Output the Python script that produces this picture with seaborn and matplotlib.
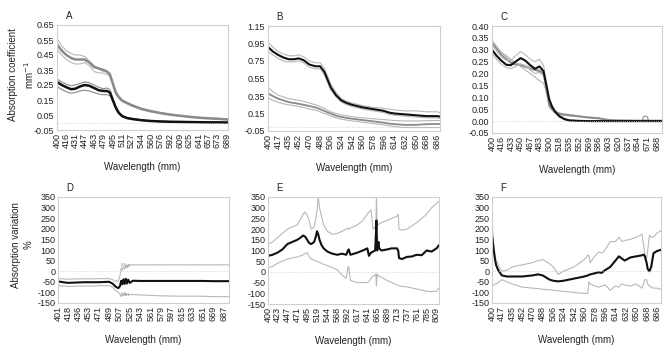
import numpy as np
import seaborn as sns
import matplotlib.pyplot as plt

# ---- panel A : absorption coefficient ----
a_wl = [400, 408, 416, 424, 431, 439, 447, 455, 463, 471, 479, 485, 490, 495, 500, 505, 511, 519, 527, 544, 560, 576, 592, 609, 625, 641, 657, 673, 691]
a_grey = [0.52, 0.48, 0.45, 0.43, 0.42, 0.42, 0.42, 0.40, 0.37, 0.36, 0.35, 0.34, 0.32, 0.26, 0.20, 0.17, 0.145, 0.13, 0.115, 0.09, 0.075, 0.063, 0.053, 0.045, 0.038, 0.032, 0.028, 0.025, 0.02]
a_grey_hi = [0.56, 0.51, 0.48, 0.46, 0.45, 0.45, 0.44, 0.41, 0.38, 0.36, 0.34, 0.34, 0.33, 0.27, 0.21, 0.175, 0.15, 0.135, 0.12, 0.095, 0.078, 0.066, 0.056, 0.047, 0.04, 0.034, 0.03, 0.027, 0.022]
a_grey_lo = [0.49, 0.45, 0.42, 0.40, 0.39, 0.39, 0.40, 0.38, 0.34, 0.33, 0.33, 0.32, 0.31, 0.25, 0.19, 0.165, 0.14, 0.125, 0.11, 0.085, 0.072, 0.06, 0.05, 0.043, 0.036, 0.03, 0.026, 0.023, 0.018]
a_black = [0.27, 0.25, 0.235, 0.222, 0.225, 0.24, 0.25, 0.245, 0.23, 0.215, 0.21, 0.21, 0.20, 0.15, 0.10, 0.065, 0.042, 0.03, 0.024, 0.015, 0.01, 0.007, 0.005, 0.004, 0.003, 0.002, 0.001, 0.001, 0.0]
a_black_hi = [0.29, 0.27, 0.255, 0.245, 0.25, 0.26, 0.27, 0.265, 0.25, 0.235, 0.225, 0.23, 0.22, 0.16, 0.105, 0.07, 0.046, 0.033, 0.027, 0.018, 0.012, 0.009, 0.007, 0.005, 0.004, 0.003, 0.002, 0.002, 0.001]
a_black_lo = [0.24, 0.22, 0.205, 0.195, 0.2, 0.21, 0.215, 0.21, 0.2, 0.19, 0.185, 0.185, 0.18, 0.14, 0.09, 0.06, 0.038, 0.027, 0.021, 0.012, 0.008, 0.005, 0.004, 0.003, 0.002, 0.001, 0.0, 0.0, -0.001]
a_ticks = [400, 416, 431, 447, 463, 479, 495, 511, 527, 544, 560, 576, 592, 609, 625, 641, 657, 673, 689]

# ---- panel B ----
b_wl = [400, 408, 417, 426, 435, 444, 452, 460, 470, 480, 488, 495, 500, 506, 515, 524, 533, 542, 560, 578, 596, 605, 614, 632, 650, 668, 686, 691]
b_black = [0.91, 0.86, 0.82, 0.79, 0.77, 0.77, 0.78, 0.76, 0.71, 0.69, 0.69, 0.63, 0.55, 0.45, 0.36, 0.30, 0.27, 0.25, 0.22, 0.20, 0.18, 0.16, 0.15, 0.14, 0.13, 0.12, 0.12, 0.115]
b_black_hi = [0.96, 0.91, 0.86, 0.83, 0.81, 0.81, 0.82, 0.80, 0.75, 0.73, 0.73, 0.67, 0.59, 0.49, 0.39, 0.32, 0.29, 0.27, 0.24, 0.22, 0.21, 0.2, 0.19, 0.18, 0.18, 0.17, 0.17, 0.16]
b_black_lo = [0.86, 0.82, 0.78, 0.75, 0.74, 0.74, 0.75, 0.73, 0.68, 0.66, 0.66, 0.60, 0.52, 0.42, 0.34, 0.28, 0.25, 0.23, 0.2, 0.18, 0.16, 0.14, 0.13, 0.12, 0.11, 0.1, 0.1, 0.095]
b_grey = [0.38, 0.35, 0.32, 0.30, 0.28, 0.27, 0.26, 0.25, 0.235, 0.22, 0.2, 0.18, 0.165, 0.15, 0.125, 0.11, 0.1, 0.09, 0.075, 0.06, 0.045, 0.035, 0.028, 0.02, 0.02, 0.028, 0.03, 0.03]
b_grey_hi = [0.45, 0.40, 0.36, 0.34, 0.32, 0.31, 0.30, 0.29, 0.27, 0.25, 0.23, 0.21, 0.19, 0.17, 0.15, 0.135, 0.125, 0.115, 0.1, 0.09, 0.08, 0.075, 0.07, 0.065, 0.065, 0.068, 0.07, 0.07]
b_grey_lo = [0.33, 0.30, 0.28, 0.26, 0.25, 0.24, 0.23, 0.22, 0.2, 0.19, 0.17, 0.15, 0.14, 0.125, 0.1, 0.085, 0.075, 0.065, 0.05, 0.035, 0.02, 0.01, 0.0, -0.01, -0.01, -0.01, -0.01, -0.01]
b_ticks = [400, 417, 435, 452, 470, 488, 506, 524, 542, 560, 578, 596, 614, 632, 650, 668, 686]

# ---- panel C ----
c_wl = [400, 408, 416, 425, 433, 441, 450, 458, 467, 475, 483, 490, 495, 500, 505, 510, 518, 527, 535, 552, 569, 586, 603, 620, 654, 671, 697]
c_black = [0.30, 0.275, 0.255, 0.237, 0.235, 0.25, 0.265, 0.255, 0.235, 0.22, 0.23, 0.21, 0.15, 0.09, 0.06, 0.04, 0.02, 0.008, 0.003, 0.001, 0.0, 0.0, 0.0, 0.0, 0.0, 0.0, 0.0]
c_black_hi = [0.32, 0.295, 0.27, 0.255, 0.255, 0.275, 0.292, 0.28, 0.26, 0.25, 0.26, 0.235, 0.165, 0.1, 0.066, 0.044, 0.024, 0.01, 0.005, 0.002, 0.001, 0.001, 0.001, 0.001, 0.001, 0.001, 0.001]
c_black_lo = [0.285, 0.26, 0.24, 0.225, 0.22, 0.23, 0.24, 0.232, 0.215, 0.2, 0.205, 0.19, 0.135, 0.08, 0.055, 0.035, 0.016, 0.006, 0.001, 0.0, -0.001, -0.001, -0.001, -0.001, -0.001, -0.001, -0.001]
c_grey = [0.33, 0.305, 0.28, 0.26, 0.245, 0.238, 0.235, 0.228, 0.22, 0.215, 0.21, 0.2, 0.14, 0.065, 0.05, 0.04, 0.03, 0.027, 0.025, 0.02, 0.015, 0.012, 0.005, 0.003, 0.002, 0.002, 0.002]
c_grey_hi = [0.34, 0.315, 0.29, 0.27, 0.255, 0.245, 0.24, 0.235, 0.228, 0.22, 0.215, 0.205, 0.145, 0.07, 0.055, 0.045, 0.034, 0.03, 0.028, 0.022, 0.017, 0.014, 0.006, 0.004, 0.003, 0.003, 0.003]
c_grey_lo = [0.32, 0.305, 0.29, 0.275, 0.26, 0.245, 0.23, 0.215, 0.2, 0.185, 0.17, 0.16, 0.12, 0.06, 0.045, 0.035, 0.027, 0.024, 0.022, 0.018, 0.013, 0.01, 0.004, 0.002, 0.001, 0.001, 0.001]
c_circle = (668, 0.01)
c_ticks = [400, 416, 433, 450, 467, 483, 500, 518, 535, 552, 569, 586, 603, 620, 637, 654, 671, 688]

# ---- panel D : absorption variation ----
d_wl = [401, 410, 418, 427, 436, 445, 453, 462, 471, 480, 489, 495, 500, 505, 508, 510, 512, 514, 516, 518, 520, 522, 525, 530, 543, 561, 579, 597, 615, 633, 651, 669, 687, 696]
d_black = [-48, -52, -55, -54, -53, -52, -52, -52, -52, -51, -50, -58, -72, -80, -70, -45, -62, -38, -60, -36, -58, -40, -55, -45, -46, -46, -46, -46, -46, -46, -46, -47, -47, -47]
d_hi = [-35, -36, -38, -37, -36, -36, -36, -36, -35, -35, -35, -40, -45, -48, -20, 15, 5, 20, 10, 25, 15, 28, 30, 30, 30, 30, 30, 30, 30, 30, 30, 30, 30, 30]
d_lo = [-68, -70, -72, -72, -70, -70, -70, -70, -68, -68, -68, -75, -90, -100, -110, -120, -110, -108, -112, -110, -110, -110, -110, -110, -112, -114, -116, -117, -118, -118, -118, -120, -120, -120]
d_ticks = [401, 418, 436, 453, 471, 489, 507, 525, 543, 561, 579, 597, 615, 633, 651, 669, 687]

# ---- panel E ----
e_wl = [400, 411, 423, 435, 447, 459, 471, 479, 485, 490, 495, 500, 505, 512, 516, 519, 522, 525, 530, 535, 544, 556, 568, 580, 590, 594, 596, 600, 617, 630, 641, 645, 650, 655, 660, 662, 663, 665, 668, 670, 675, 689, 700, 713, 716, 718, 725, 737, 749, 761, 773, 785, 797, 809, 815]
e_black = [75, 80, 90, 105, 130, 140, 150, 160, 170, 165, 150, 135, 130, 140, 165, 190, 175, 150, 125, 110, 95, 85, 80, 85, 80, 100, 105, 80, 90, 100, 110, 75, 90, 95, 100, 180, 240, 100, 140, 110, 100, 105, 110, 110, 100, 65, 60, 70, 72, 80, 78, 100, 95, 110, 125]
e_hi = [130, 140, 160, 180, 200, 210, 220, 245, 270, 280, 265, 240, 200, 210, 250, 285, 350, 300, 260, 220, 190, 175, 180, 190, 200, 205, 200, 205, 220, 240, 270, 280, 290, 200, 210, 220, 350, 220, 220, 225, 230, 240, 250, 260, 270, 200, 195, 200, 215, 230, 250, 270, 300, 320, 330]
e_lo = [20, 25, 40, 50, 60, 65, 70, 75, 80, 85, 90, 70, 60, 55, 50, 50, 45, 45, 40, 35, 30, 20, 10, -15, -30, 20, 25, -40, -50, -50, -50, -45, -30, -20, -15, -10, -65, -10, -20, -20, -25, -40, -50, -60, -62, -65, -68, -70, -75, -80, -85, -90, -92, -90, -75]
e_ticks = [400, 423, 447, 471, 495, 519, 544, 568, 592, 617, 641, 665, 689, 713, 737, 761, 785, 809]

# ---- panel F ----
f_wl = [400, 401, 403, 405, 407, 410, 412, 417, 426, 435, 452, 470, 480, 488, 500, 506, 515, 524, 542, 560, 566, 568, 570, 578, 585, 590, 596, 605, 614, 620, 625, 630, 640, 650, 660, 663, 665, 668, 670, 673, 676, 680, 686, 692, 700]
f_black = [170, 150, 100, 60, 30, 10, 0, -20, -25, -25, -25, -20, -15, -20, -40, -45, -48, -45, -35, -25, -20, -18, -15, -10, -5, -8, 5, 20, 50, 70, 60, 50, 65, 70, 75, 78, 70, 40, 10, 0, 20, 85, 95, 100, 105]
f_hi = [350, 200, 120, 80, 50, 40, 20, 0, 5, 20, 30, 40, 50, 55, 35, 20, -15, 0, 20, 55, 75, 75, 40, 70, 90, 85, 100, 140, 140, 160, 140, 145, 150, 160, 175, 120, 80, 60, 100, 170, 160, 160, 180, 190, 200]
f_lo = [-70, -70, -65, -60, -60, -55, -50, -40, -50, -60, -75, -80, -82, -85, -88, -90, -93, -95, -100, -105, -105, -50, -60, -70, -75, -70, -65, -90, -70, -75, -60, -65, -70, -60, -80, -60, -40, -40, -60, -70, -75, -80, -80, -85, -90]
f_ticks = [400, 417, 435, 452, 470, 488, 506, 524, 542, 560, 578, 596, 614, 632, 650, 668, 686]

BLACK = '#111111'
GREY = '#8a8a8a'
LIGHT = '#b8b8b8'

sns.set_style('white')
plt.rcParams['font.family'] = ['Liberation Sans Narrow', 'Liberation Sans', 'DejaVu Sans']

fig = plt.figure(figsize=(6.71, 3.53), dpi=100)
W, H = 671, 353


def make_ax(l, t, r, b):
    return fig.add_axes([l / W, 1 - b / H, (r - l) / W, (b - t) / H])


def draw(ax, wl, series, xlim, ylim, yticks, yfmt, xticks, letter):
    for ys, col, lw in series:
        sns.lineplot(x=wl, y=ys, ax=ax, color=col, lw=lw, estimator=None, sort=False)
    ax.axhline(0, color='#cccccc', lw=0.6, ls=':')
    ax.set_xlim(*xlim)
    ax.set_ylim(*ylim)
    ax.set_yticks(yticks)
    ax.set_yticklabels([yfmt.format(v) for v in yticks], fontsize=6.5, color='#222222')
    ax.set_xticks(xticks)
    ax.set_xticklabels([str(v) for v in xticks], rotation=90, fontsize=6.5, color='#222222')
    ax.tick_params(length=0, pad=2)
    for s in ax.spines.values():
        s.set_color('#cfcfcf')
        s.set_linewidth(0.8)
    ax.set_xlabel('Wavelength (mm)', fontsize=7, color='#222222', labelpad=10)
    ax.text(0.05, 1.06, letter, transform=ax.transAxes, fontsize=7, color='#222222')


axA = make_ax(57, 25, 228, 130)
axB = make_ax(268, 26, 440, 131)
axC = make_ax(492, 26, 662, 133)
axD = make_ax(58, 197, 229, 303)
axE = make_ax(268, 197, 439, 304)
axF = make_ax(492, 197, 661, 303)

yA = [-0.05, 0.05, 0.15, 0.25, 0.35, 0.45, 0.55, 0.65]
draw(axA, a_wl, [(a_grey_hi, LIGHT, 0.8), (a_grey_lo, LIGHT, 0.8), (a_grey, GREY, 1.8),
                 (a_black_hi, GREY, 0.8), (a_black_lo, GREY, 0.8), (a_black, BLACK, 1.8)],
     (400, 691), (-0.05, 0.65), yA, '{:.2f}', a_ticks, 'A')

yB = [-0.05, 0.15, 0.35, 0.55, 0.75, 0.95, 1.15]
draw(axB, b_wl, [(b_grey_hi, LIGHT, 0.8), (b_grey_lo, LIGHT, 0.8), (b_grey, GREY, 1.3),
                 (b_black_hi, LIGHT, 0.8), (b_black_lo, LIGHT, 0.8), (b_black, BLACK, 1.5)],
     (400, 691), (-0.05, 1.15), yB, '{:.2f}', b_ticks, 'B')

yC = [-0.05, 0.0, 0.05, 0.10, 0.15, 0.20, 0.25, 0.30, 0.35, 0.40]
draw(axC, c_wl, [(c_grey_hi, LIGHT, 0.8), (c_grey_lo, LIGHT, 0.8), (c_grey, GREY, 1.3),
                 (c_black_hi, LIGHT, 0.8), (c_black_lo, LIGHT, 0.8), (c_black, BLACK, 1.5)],
     (400, 697), (-0.05, 0.40), yC, '{:.2f}', c_ticks, 'C')
axC.scatter([c_circle[0]], [c_circle[1]], s=14, facecolors='none', edgecolors=GREY, lw=0.8)

yV = [-150, -100, -50, 0, 50, 100, 150, 200, 250, 300, 350]
draw(axD, d_wl, [(d_hi, LIGHT, 0.8), (d_lo, LIGHT, 0.8), (d_black, BLACK, 1.5)],
     (401, 696), (-150, 350), yV, '{:d}', d_ticks, 'D')
axD.text(509, 20, 'Max', fontsize=4, color='#999999')
axD.text(509, -118, 'Min', fontsize=4, color='#999999')

draw(axE, e_wl, [(e_hi, LIGHT, 0.8), (e_lo, LIGHT, 0.8), (e_black, BLACK, 1.5)],
     (400, 815), (-150, 350), yV, '{:d}', e_ticks, 'E')

draw(axF, f_wl, [(f_hi, LIGHT, 0.8), (f_lo, LIGHT, 0.8), (f_black, BLACK, 1.5)],
     (400, 693), (-150, 350), yV, '{:d}', f_ticks, 'F')

fig.text(22 / W, 1 - 75 / H, 'Absorption coefficient\nmm$^{-1}$', rotation=90,
         ha='center', va='center', fontsize=7, color='#222222', linespacing=1.3)
fig.text(22 / W, 1 - 245 / H, 'Absorption variation\n%', rotation=90,
         ha='center', va='center', fontsize=7, color='#222222', linespacing=1.3)

fig.savefig('out.png', dpi=100)
